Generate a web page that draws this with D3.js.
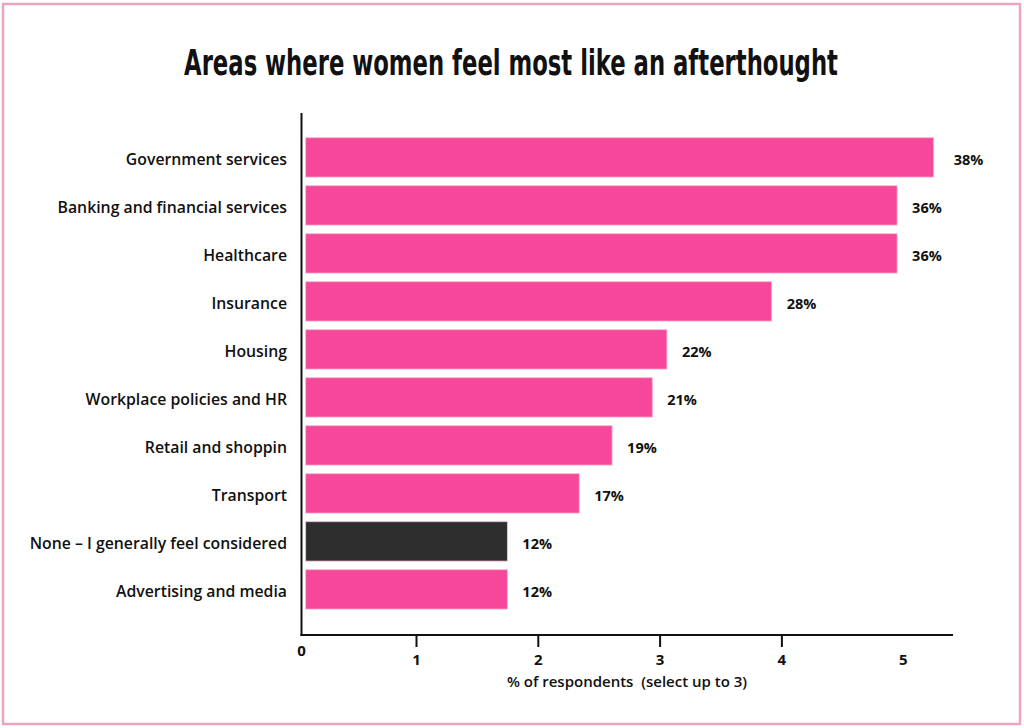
<!DOCTYPE html>
<html>
<head>
<meta charset="utf-8">
<script src="https://cdn.jsdelivr.net/npm/d3@7"></script>
<style>
  body { margin: 0; background: #fff; }
  svg text { fill: #111; }
</style>
</head>
<body>
<svg id="chart" width="1024" height="728"></svg>
<script>
// data
var categories = [
  "Government services",
  "Banking and financial services",
  "Healthcare",
  "Insurance",
  "Housing",
  "Workplace policies and HR",
  "Retail and shoppin",
  "Transport",
  "None \u2013 I generally feel considered",
  "Advertising and media"
];
// bar lengths in axis units (the axis runs 0..5)
var values = [5.25, 4.95, 4.95, 3.92, 3.06, 2.94, 2.61, 2.34, 1.75, 1.75];
var valueLabels = ["38%", "36%", "36%", "28%", "22%", "21%", "19%", "17%", "12%", "12%"];
var tickValues = [0, 1, 2, 3, 4, 5];

var pink = "#f7479b", dark = "#2e2e2e";

var svg = d3.select("#chart");
var font = "'Open Sans', sans-serif";

// pink frame
svg.append("rect")
    .attr("x", 3).attr("y", 4)
    .attr("width", 1017).attr("height", 720)
    .attr("fill", "none")
    .attr("stroke", "#eba6bd")
    .attr("stroke-width", 2.5);

// title, squeezed horizontally for a condensed look
svg.append("text")
    .attr("transform", "translate(511,75) scale(0.65,1)")
    .attr("text-anchor", "middle")
    .style("font-family", "'DejaVu Sans', sans-serif")
    .style("font-weight", "bold")
    .style("font-size", "35px")
    .text("Areas where women feel most like an afterthought");

var x = d3.scaleLinear().domain([0, 5]).range([294.2, 903.2]);
var y = d3.scaleBand()
    .domain(categories)
    .range([133.4, 613.4])
    .paddingInner(0.18)
    .paddingOuter(0.09);

var axisX = 301.5, axisY = 635, barStart = 305.7;

// bars
svg.selectAll("rect.bar")
    .data(values)
    .enter().append("rect")
    .attr("class", "bar")
    .attr("x", barStart)
    .attr("y", function(d, i) { return y(categories[i]); })
    .attr("width", function(d) { return x(d) - barStart; })
    .attr("height", y.bandwidth())
    .attr("fill", function(d, i) { return categories[i].indexOf("None") === 0 ? dark : pink; })
    .attr("stroke", "#fbb6d5")
    .attr("stroke-width", 0.8);

// value labels
svg.selectAll("text.val")
    .data(values)
    .enter().append("text")
    .attr("class", "val")
    .attr("x", function(d, i) { return x(d) + (i === 0 ? 20 : 15); })
    .attr("y", function(d, i) { return y(categories[i]) + y.bandwidth() / 2 + 8; })
    .style("font-family", font)
    .style("font-weight", 700)
    .style("font-size", "14.5px")
    .text(function(d, i) { return valueLabels[i]; });

// category labels
svg.selectAll("text.cat")
    .data(categories)
    .enter().append("text")
    .attr("class", "cat")
    .attr("x", 287)
    .attr("y", function(d) { return y(d) + y.bandwidth() / 2 + 8; })
    .attr("text-anchor", "end")
    .style("font-family", font)
    .style("font-weight", 600)
    .style("font-size", "15.8px")
    .text(function(d) { return d; });

// y axis line
svg.append("line")
    .attr("x1", axisX).attr("x2", axisX)
    .attr("y1", 113).attr("y2", axisY + 1)
    .attr("stroke", "#111").attr("stroke-width", 2);

// x axis
var xAxis = d3.axisBottom(x)
    .tickValues(tickValues.slice(1, 5))
    .tickSize(12)
    .tickFormat(d3.format("d"));

var gx = svg.append("g")
    .attr("transform", "translate(0," + axisY + ")")
    .call(xAxis);
gx.select(".domain").remove();
gx.selectAll(".tick line").attr("stroke", "#111").attr("stroke-width", 2);
gx.selectAll(".tick text")
    .attr("y", 19)
    .style("font-family", font)
    .style("font-weight", 700)
    .style("font-size", "15px")
    .style("fill", "#111");

gx.append("line")
    .attr("x1", axisX - 1).attr("x2", 953)
    .attr("y1", 0).attr("y2", 0)
    .attr("stroke", "#111").attr("stroke-width", 2);

// odd "0" and "5" tick labels, drawn without tick marks
svg.append("text")
    .attr("x", axisX).attr("y", 656)
    .attr("text-anchor", "middle")
    .style("font-family", font).style("font-weight", 700).style("font-size", "15px")
    .text(tickValues[0]);
svg.append("text")
    .attr("x", x(tickValues[5])).attr("y", 665)
    .attr("text-anchor", "middle")
    .style("font-family", font).style("font-weight", 700).style("font-size", "15px")
    .text(tickValues[5]);

// axis title
svg.append("text")
    .attr("x", 627).attr("y", 687)
    .attr("text-anchor", "middle")
    .style("font-family", font)
    .style("font-weight", 600)
    .style("font-size", "15px")
    .attr("xml:space", "preserve")
    .text("% of respondents  (select up to 3)");
</script>
</body>
</html>
